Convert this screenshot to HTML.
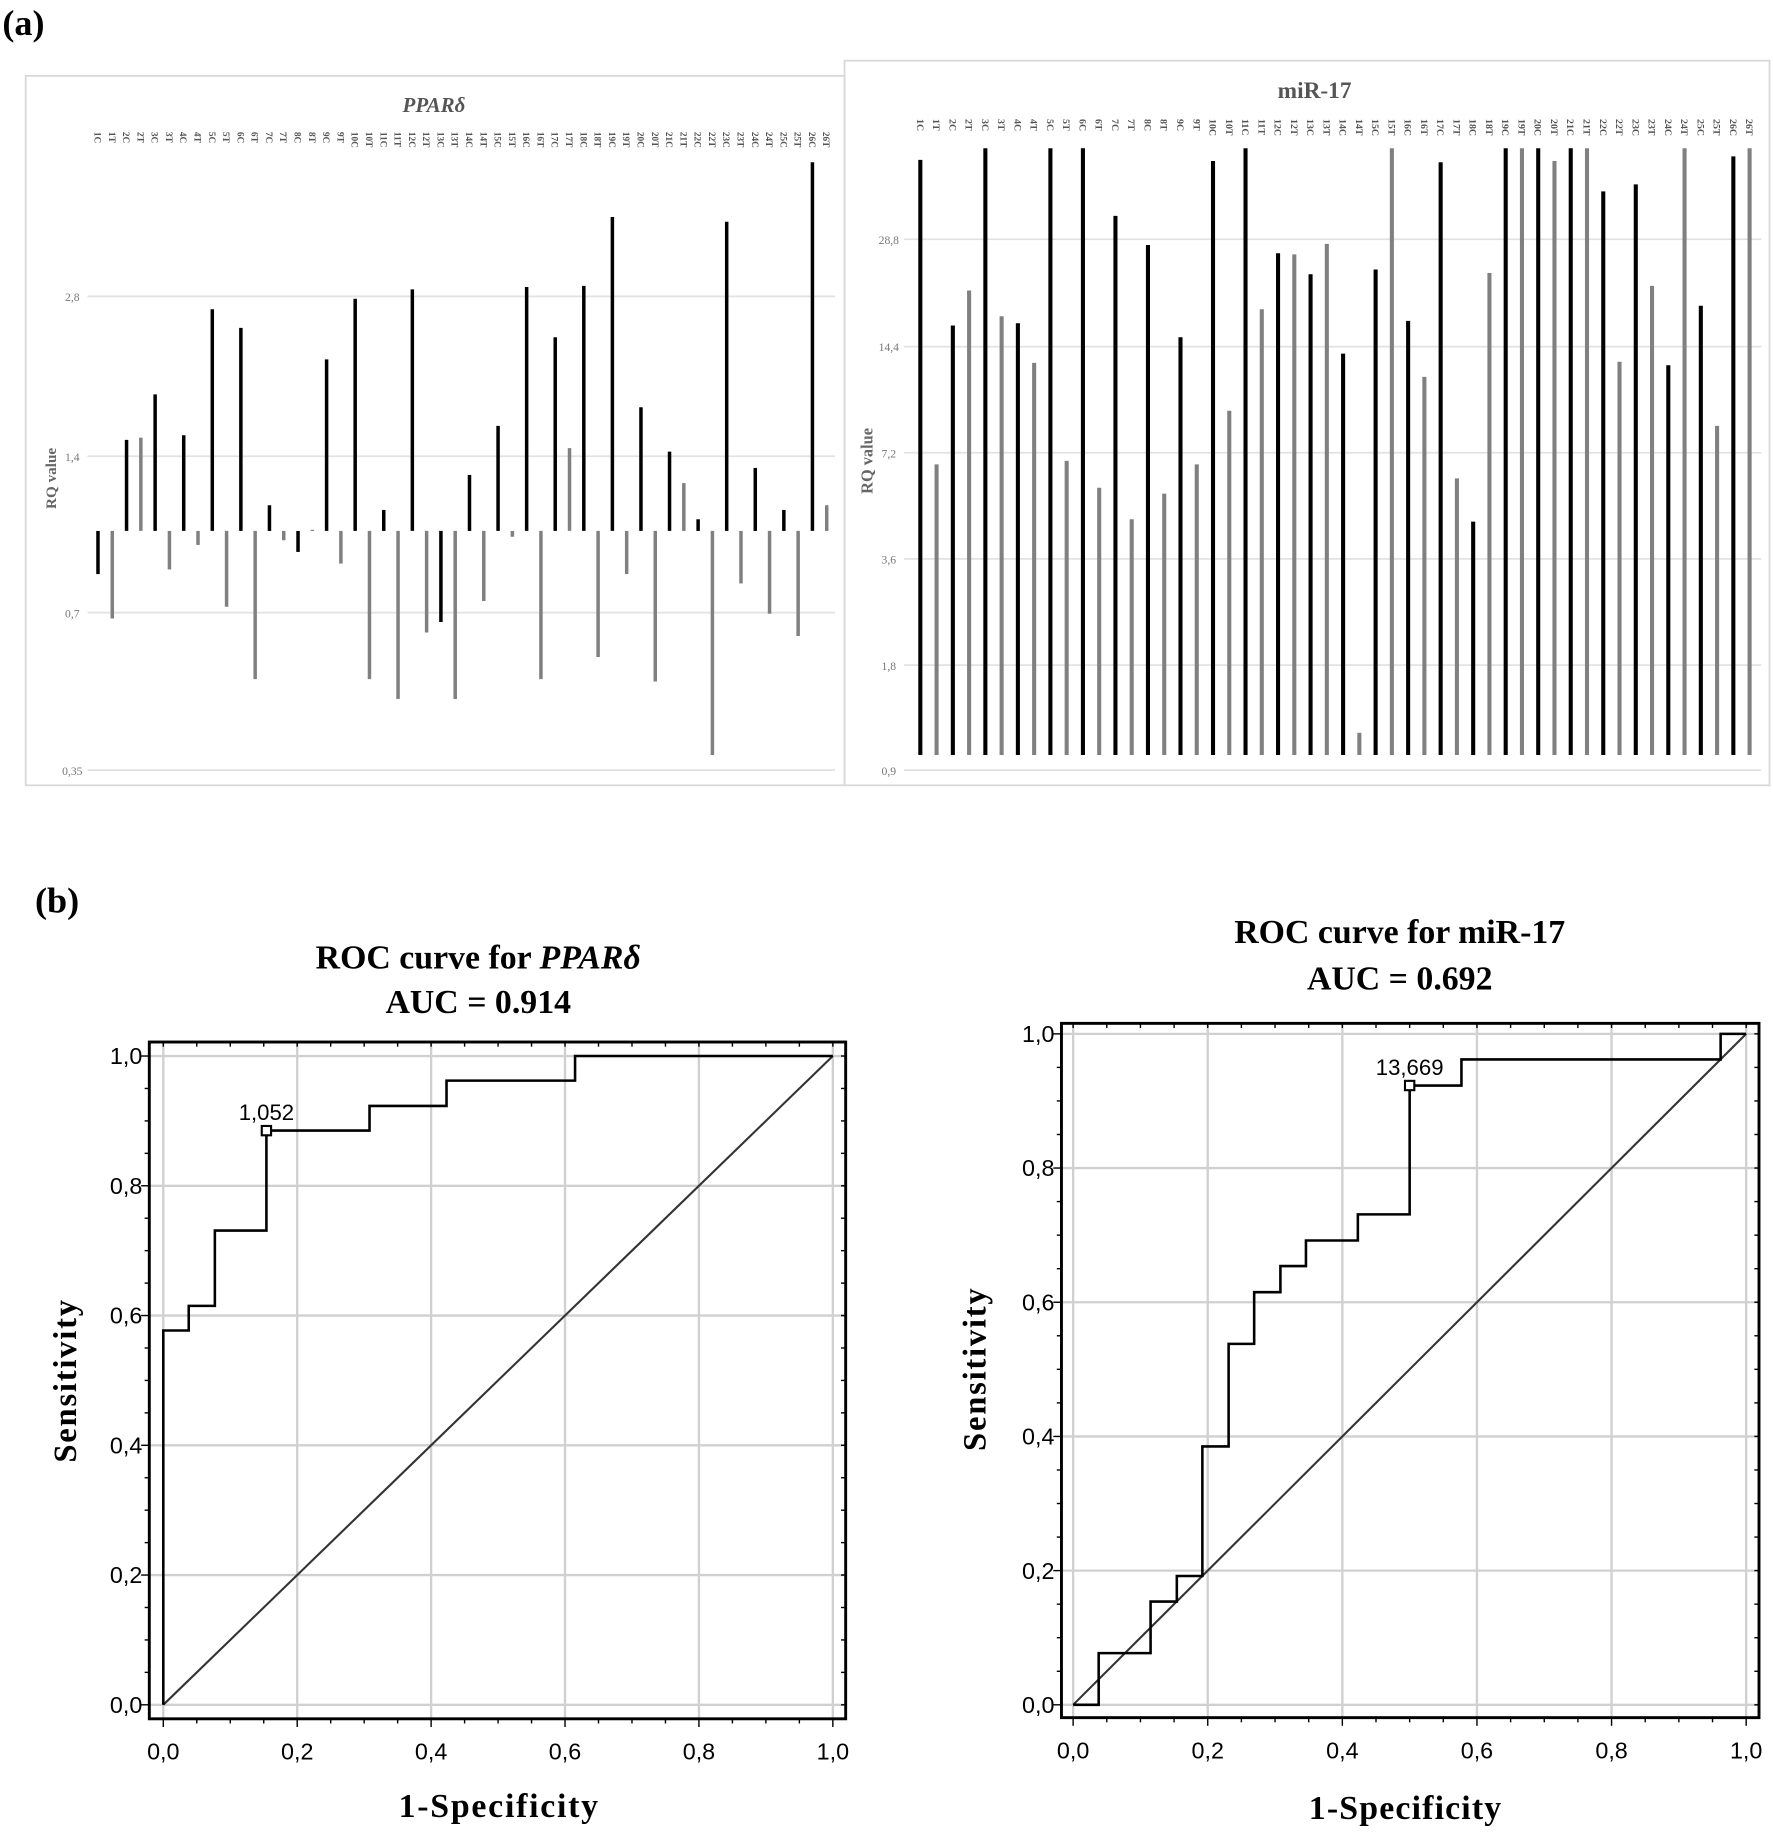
<!DOCTYPE html>
<html><head><meta charset="utf-8"><style>
html,body{margin:0;padding:0;background:#fff;}
svg{display:block;}
text{font-family:"Liberation Serif",serif;}
.s{font-family:"Liberation Sans",sans-serif;}
</style></head><body>
<svg id="g" width="1773" height="1832" viewBox="0 0 1520 1570" preserveAspectRatio="none" xmlns="http://www.w3.org/2000/svg">
<rect width="1520" height="1570" fill="#fff"/>
<text x="2" y="30" font-size="31" font-weight="bold">(a)</text>
<rect x="22" y="65" width="702" height="608" fill="none" stroke="#d8d8d8" stroke-width="1.5"/>
<rect x="724" y="52" width="793" height="621" fill="none" stroke="#d8d8d8" stroke-width="1.5"/>
<text x="372" y="96" font-size="18" font-weight="bold" font-style="italic" fill="#555" text-anchor="middle">PPARδ</text>
<text x="1127" y="84" font-size="20" font-weight="bold" fill="#555" text-anchor="middle">miR-17</text>
<text transform="translate(48,410) rotate(-90)" font-size="13" font-weight="bold" fill="#666" text-anchor="middle">RQ value</text>
<text transform="translate(748,395) rotate(-90)" font-size="14" font-weight="bold" fill="#666" text-anchor="middle">RQ value</text>
<g id="a"></g>
<text x="30" y="782" font-size="31" font-weight="bold">(b)</text>
<text x="410" y="830" font-size="29" font-weight="bold" text-anchor="middle">ROC curve for <tspan font-style="italic">PPARδ</tspan></text>
<text x="410" y="868" font-size="29" font-weight="bold" text-anchor="middle">AUC = 0.914</text>
<text x="1200" y="808" font-size="29" font-weight="bold" text-anchor="middle">ROC curve for miR-17</text>
<text x="1200" y="848" font-size="29" font-weight="bold" text-anchor="middle">AUC = 0.692</text>
<text transform="translate(65,1183) rotate(-90)" font-size="28" font-weight="bold" letter-spacing="1.5" text-anchor="middle">Sensitivity</text>
<text transform="translate(845,1173) rotate(-90)" font-size="28" font-weight="bold" letter-spacing="1.5" text-anchor="middle">Sensitivity</text>
<text x="428" y="1557" font-size="29" font-weight="bold" letter-spacing="1.5" text-anchor="middle">1-Specificity</text>
<text x="1205" y="1559" font-size="29" font-weight="bold" letter-spacing="1" text-anchor="middle">1-Specificity</text>
<g id="b"></g>
</svg>
<script>
var NS="http://www.w3.org/2000/svg";
function el(p,t,a,txt){var e=document.createElementNS(NS,t);for(var k in a)e.setAttribute(k,a[k]);if(txt!==undefined)e.textContent=txt;document.getElementById(p).appendChild(e);return e;}
[[254,"2,8"],[391,"1,4"],[525,"0,7"],[660,"0,35"]].forEach(function(g){el("a","line",{x1:75,x2:716,y1:g[0],y2:g[0],stroke:"#e2e2e2","stroke-width":1.5});el("a","text",{x:62,y:g[0]+4,"font-size":10,fill:"#777","text-anchor":"middle"},g[1]);});
var L=[492,530,377,375,338,488,373,467,265,520,281,582,433,463,473,454,308,483,256,582,437,599,248,542,533,599,407,515,365,460,246,582,289,384,245,563,186,492,349,584,387,414,445,647,190,500,401,526,437,545,139,433];
for(var i=0;i<52;i++){var x=84+i*12.25;var n=Math.floor(i/2)+1;var lab=n+(i%2?"T":"C");
var y=L[i];el("a","line",{x1:x,x2:x,y1:455,y2:y,stroke:(i%2?"#808080":"#000"),"stroke-width":3});
el("a","text",{transform:"translate("+(x-3)+",113) rotate(90)","font-size":8,"font-weight":"bold",fill:"#555"},lab);}
[[205,"28,8"],[297,"14,4"],[388,"7,2"],[479,"3,6"],[570,"1,8"],[660,"0,9"]].forEach(function(g){el("a","line",{x1:775,x2:1510,y1:g[0],y2:g[0],stroke:"#e2e2e2","stroke-width":1.5});el("a","text",{x:762,y:g[0]+4,"font-size":10,fill:"#777","text-anchor":"middle"},g[1]);});
var R=[137,398,279,249,127,271,277,311,127,395,127,418,185,445,210,423,289,398,138,352,127,265,217,218,235,209,303,628,231,127,275,323,139,410,447,234,127,127,127,138,127,127,164,310,158,245,313,127,262,365,134,127];
for(var i=0;i<52;i++){var x=789+i*13.94;var n=Math.floor(i/2)+1;var lab=n+(i%2?"T":"C");
el("a","line",{x1:x,x2:x,y1:647,y2:R[i],stroke:(i%2?"#808080":"#000"),"stroke-width":3.5});
el("a","text",{transform:"translate("+(x-3)+",102) rotate(90)","font-size":8.5,"font-weight":"bold",fill:"#555"},lab);}
function roc(bx0,by0,bx1,by1,x0,x1,y0,y1,pts,mk,lab){
 function X(v){return x0+v*(x1-x0);} function Y(v){return y0+v*(y1-y0);}
 for(var k=0;k<=5;k++){var v=k*0.2;
  el("b","line",{x1:X(v),x2:X(v),y1:by0,y2:by1,stroke:"#d0d0d0","stroke-width":2});
  el("b","line",{x1:bx0,x2:bx1,y1:Y(v),y2:Y(v),stroke:"#d0d0d0","stroke-width":2});
  el("b","text",{class:"s",x:X(v),y:by1+35,"font-size":20,"text-anchor":"middle"},v.toFixed(1).replace(".",","));
  el("b","text",{class:"s",x:bx0-6,y:Y(v)+7,"font-size":20,"text-anchor":"end"},v.toFixed(1).replace(".",","));}
 for(var k=0;k<=20;k++){var v=k*0.05;var t=k%4==0?7:4;
  el("b","line",{x1:X(v),x2:X(v),y1:by1,y2:by1+t,stroke:"#000","stroke-width":1.2});
  el("b","line",{x1:X(v),x2:X(v),y1:by0,y2:by0+4,stroke:"#000","stroke-width":1.2});
  el("b","line",{x1:bx0-t,x2:bx0,y1:Y(v),y2:Y(v),stroke:"#000","stroke-width":1.2});
  el("b","line",{x1:bx1-4,x2:bx1,y1:Y(v),y2:Y(v),stroke:"#000","stroke-width":1.2});}
 el("b","rect",{x:bx0,y:by0,width:bx1-bx0,height:by1-by0,fill:"none",stroke:"#000","stroke-width":2.5});
 el("b","line",{x1:X(0),y1:Y(0),x2:X(1),y2:Y(1),stroke:"#333","stroke-width":1.8});
 var d=pts.map(function(p,i){return (i?"L":"M")+X(p[0]).toFixed(1)+" "+Y(p[1]).toFixed(1);}).join(" ");
 el("b","path",{d:d,fill:"none",stroke:"#000","stroke-width":2.2});
 el("b","rect",{x:X(mk[0])-4,y:Y(mk[1])-4,width:8,height:8,fill:"#fff",stroke:"#000","stroke-width":1.8});
 el("b","text",{class:"s",x:X(mk[0]),y:Y(mk[1])-9,"font-size":19,"text-anchor":"middle"},lab);
}
roc(128,893,725,1473,140,714,1461,905,
 [[0,0],[0,0.577],[0.038,0.577],[0.038,0.615],[0.077,0.615],[0.077,0.731],[0.154,0.731],[0.154,0.885],[0.308,0.885],[0.308,0.923],[0.423,0.923],[0.423,0.962],[0.615,0.962],[0.615,1],[1,1]],[0.154,0.885],"1,052");
roc(910,877,1508,1472,920,1497,1461,886,
 [[0,0],[0.038,0],[0.038,0.077],[0.115,0.077],[0.115,0.154],[0.154,0.154],[0.154,0.192],[0.192,0.192],[0.192,0.385],[0.231,0.385],[0.231,0.538],[0.269,0.538],[0.269,0.615],[0.308,0.615],[0.308,0.654],[0.346,0.654],[0.346,0.692],[0.423,0.692],[0.423,0.731],[0.5,0.731],[0.5,0.923],[0.577,0.923],[0.577,0.962],[0.962,0.962],[0.962,1],[1,1]],[0.5,0.923],"13,669");
</script>
</body></html>
